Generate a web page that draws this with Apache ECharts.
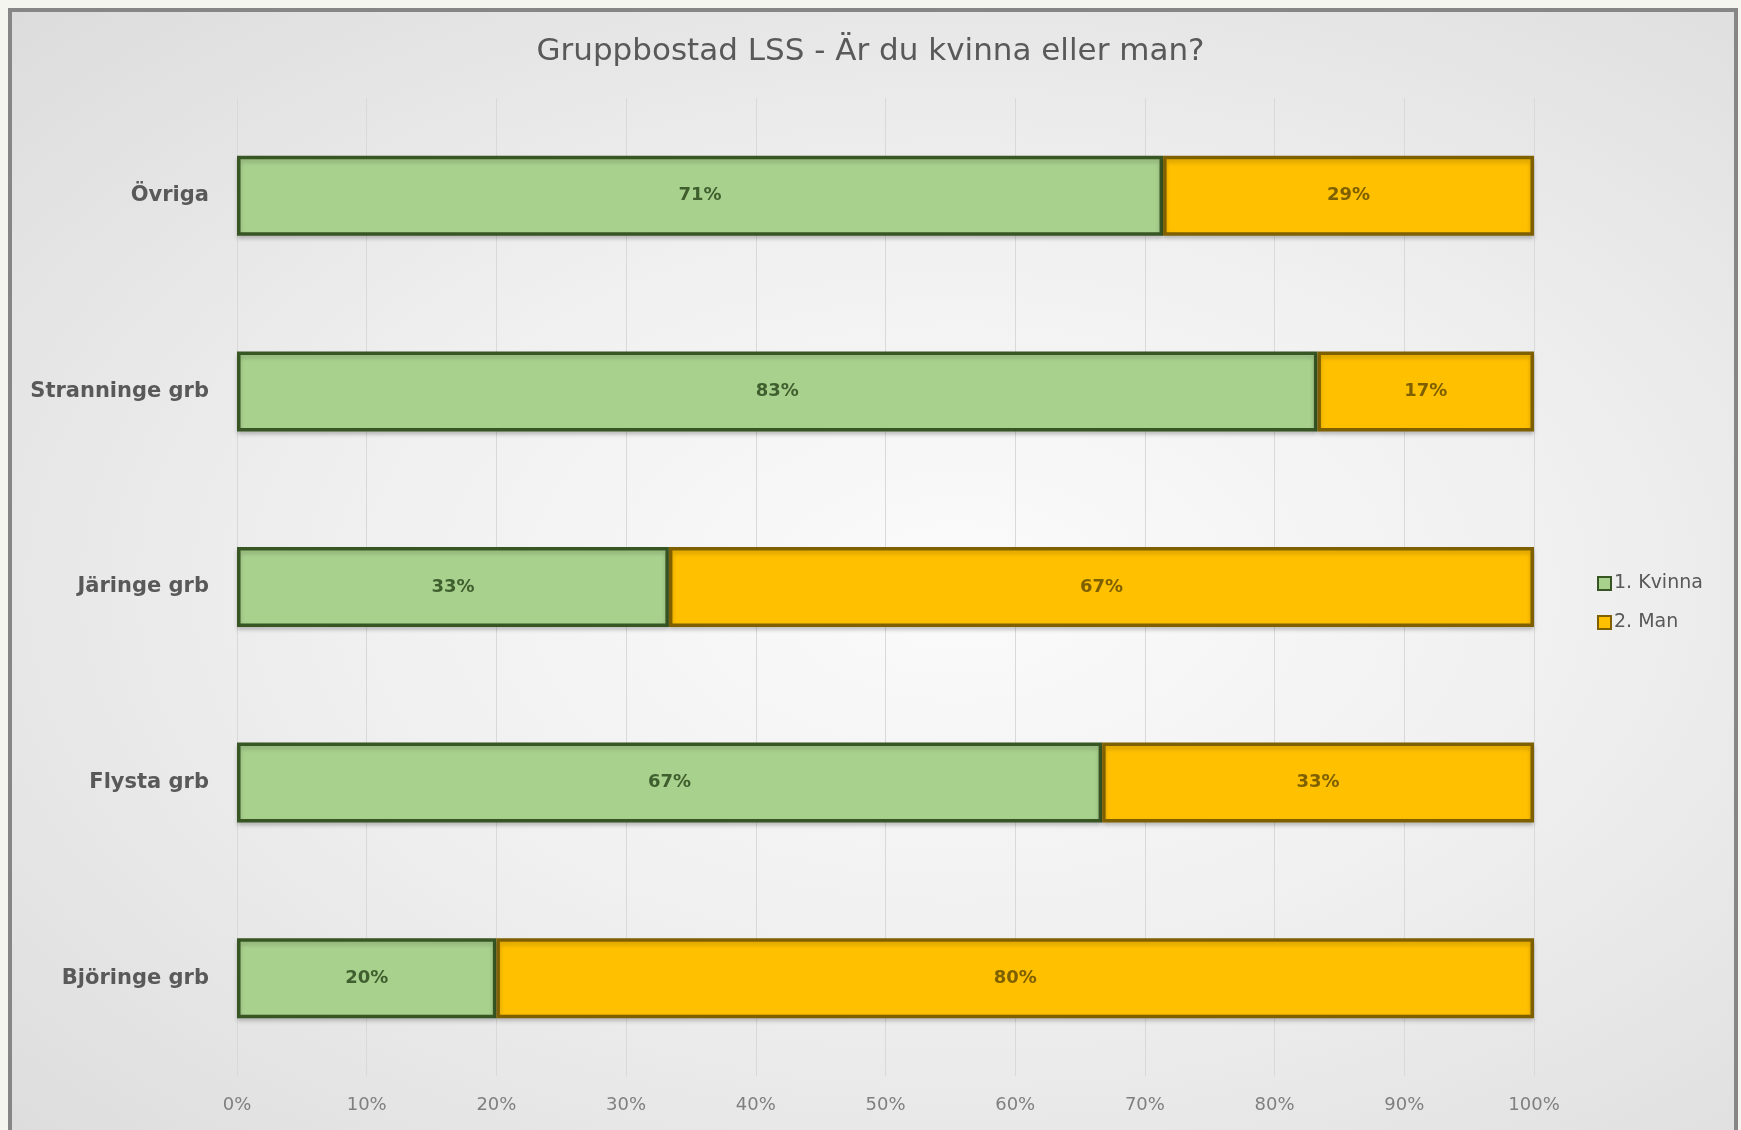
<!DOCTYPE html>
<html>
<head>
<meta charset="utf-8">
<script src="https://cdn.jsdelivr.net/npm/echarts@6/dist/echarts.min.js"></script>
<style>
  html, body { margin: 0; padding: 0; width: 1741px; height: 1130px; overflow: hidden; background: #f4f5ef; }
  #frame { position: absolute; left: 8px; top: 8px; width: 1722px; height: 1150px; border: 4px solid #868686;
    background: radial-gradient(ellipse at 55% 50%, #fbfbfb 0%, #f0f0f0 45%, #dcdcdc 100%); }
  #chart { position: absolute; left: 0; top: 0; width: 1741px; height: 1130px; }
</style>
</head>
<body>
<div id="frame"></div>
<div id="chart"></div>
<script>
const titleText = 'Gruppbostad LSS - Är du kvinna eller man?';
const categories = ['Björinge grb', 'Flysta grb', 'Järinge grb', 'Stranninge grb', 'Övriga'];
const seriesNames = ['1. Kvinna', '2. Man'];
const kvinna = [20, 66.7, 33.3, 83.3, 71.4];
const man = [80, 33.3, 66.7, 16.7, 28.6];
const xTicks = { min: 0, max: 100, interval: 10 };

const chart = echarts.init(document.getElementById('chart'));
const font = 'DejaVu Sans';
function mkSeries(name, data, fill, border, labelColor) {
  return {
    name: name,
    type: 'bar',
    stack: 'total',
    data: data,
    barWidth: 80,
    itemStyle: { color: fill, borderColor: border, borderWidth: 3.5,
      shadowColor: 'rgba(0,0,0,0.18)', shadowBlur: 4, shadowOffsetY: 3 },
    label: { show: true, position: 'inside', fontFamily: font, fontSize: 18, fontWeight: 'bold',
      color: labelColor, formatter: p => Math.round(p.value) + '%' },
    emphasis: { disabled: true }
  };
}
chart.setOption({
  backgroundColor: 'transparent',
  animation: false,
  title: { text: titleText, left: 'center', top: 31,
    textStyle: { fontFamily: font, fontSize: 31, fontWeight: 'normal', color: '#595959' } },
  legend: { orient: 'vertical', left: 1592, top: 569, itemGap: 20, itemWidth: 13, itemHeight: 13,
    icon: 'rect', textStyle: { fontFamily: font, fontSize: 19, color: '#595959', padding: [0, 0, 0, -2] } },
  grid: { left: 237, right: 207, top: 98, bottom: 54 },
  xAxis: { type: 'value', min: xTicks.min, max: xTicks.max, interval: xTicks.interval,
    axisLabel: { formatter: '{value}%', fontFamily: font, fontSize: 18, color: '#7f7f7f', margin: 20 },
    axisLine: { show: false }, axisTick: { show: false },
    splitLine: { lineStyle: { color: '#d9d9d9', width: 1 } } },
  yAxis: { type: 'category', data: categories,
    axisLabel: { fontFamily: font, fontSize: 21, fontWeight: 'bold', color: '#595959', margin: 28 },
    axisLine: { show: false }, axisTick: { show: false } },
  series: [
    mkSeries(seriesNames[0], kvinna, '#a9d18e', '#375623', '#3f5f2e'),
    mkSeries(seriesNames[1], man, '#ffc000', '#7f6000', '#7f6000')
  ]
});
</script>
</body>
</html>
